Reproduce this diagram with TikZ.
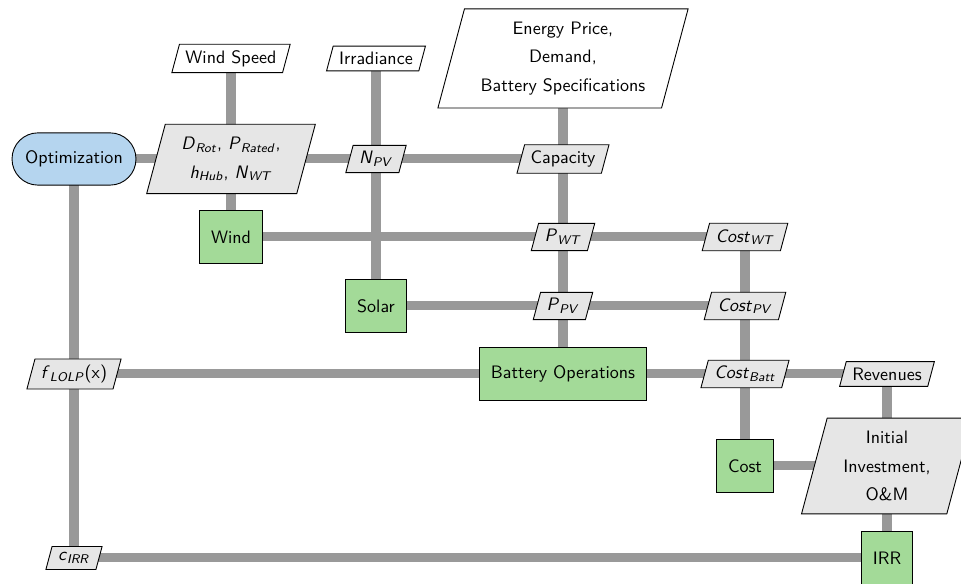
\documentclass[tikz,border=0pt]{standalone}
\usepackage{tikz}
\usetikzlibrary{shapes.geometric}
\usetikzlibrary{positioning}

\definecolor{optblue}{RGB}{181,213,239}
\definecolor{funcgreen}{RGB}{163,218,152}
\definecolor{datagray}{RGB}{230,230,230}
\definecolor{linegray}{RGB}{153,153,153}

\pgfdeclarelayer{background}
\pgfsetlayers{background,main}

\tikzstyle{optBox} = [draw=black, line width=0.5pt, fill=optblue,
   rectangle, rounded corners=14.4pt, minimum height=29pt, inner xsep=7.3pt]
\tikzstyle{funcBox} = [draw=black, line width=0.5pt, fill=funcgreen,
   rectangle, minimum height=29pt, inner xsep=6.5pt]
\tikzstyle{dataIn} = [draw=black, line width=0.5pt, fill=white,
   trapezium, trapezium left angle=75, trapezium right angle=105]
\tikzstyle{dataVar} = [dataIn, fill=datagray]
\tikzstyle{bigData} = [align=center, inner xsep=9pt, inner ysep=7pt]
\tikzstyle{dataLine} = [line width=5pt, draw=linegray]

\newcommand{\vsub}[2]{\textit{#1}\textsubscript{\textit{#2}}}

\begin{document}
\begin{tikzpicture}[x=0.555pt, y=-0.555pt, font=\sffamily]
    \useasboundingbox (0,0) rectangle (961,584);
    % diagonal
    \node [optBox] (opt) at (74,159) {Optimization};
    \node [funcBox] (wind) at (231,237) {Wind};
    \node [funcBox] (solar) at (376,306) {Solar};
    \node [funcBox] (batt) at (563,374) {Battery Operations};
    \node [funcBox] (cost) at (745,466) {Cost};
    \node [funcBox] (irrbox) at (887,558) {IRR};
    % inputs
    \node [dataIn] (wspd) at (231,58.5) {Wind Speed};
    \node [dataIn] (irrad) at (376,58.5) {Irradiance};
    \node [dataIn, bigData] (edata) at (563,58.5)
       {Energy Price,\\[4pt] Demand,\\[4pt] Battery Specifications};
    % variables
    \node [dataVar, bigData] (drot) at (231,159)
       {\vsub{D}{Rot}, \vsub{P}{Rated},\\[4pt] \vsub{h}{Hub}, \vsub{N}{WT}};
    \node [dataVar] (npv) at (376,159) {\vsub{N}{PV}};
    \node [dataVar] (cap) at (563,159) {Capacity};
    \node [dataVar] (pwt) at (563,237) {\vsub{P}{WT}};
    \node [dataVar] (cwt) at (745,237) {\vsub{Cost}{WT}};
    \node [dataVar] (ppv) at (563,306) {\vsub{P}{PV}};
    \node [dataVar] (cpv) at (745,306) {\vsub{Cost}{PV}};
    \node [dataVar] (flolp) at (74,374) {\vsub{f}{LOLP}(x)};
    \node [dataVar] (cbatt) at (745,374) {\vsub{Cost}{Batt}};
    \node [dataVar] (rev) at (887,374) {Revenues};
    \node [dataVar, bigData] (inv) at (887,466)
       {Initial\\[4pt] Investment,\\[4pt] O\&M};
    \node [dataVar] (circ) at (74,558) {\vsub{c}{IRR}};
    % connections
    \begin{pgfonlayer}{background}
    \draw [dataLine] (opt.center) -- (drot.center) -- (npv.center) -- (cap.center);
    \draw [dataLine] (opt.center) -- (flolp.center) -- (circ.center);
    \draw [dataLine] (wspd.center) -- (drot.center) -- (wind.center);
    \draw [dataLine] (irrad.center) -- (npv.center) -- (solar.center);
    \draw [dataLine] (edata.center) -- (cap.center) -- (pwt.center) -- (ppv.center) -- (batt.center);
    \draw [dataLine] (wind.center) -- (pwt.center) -- (cwt.center);
    \draw [dataLine] (solar.center) -- (ppv.center) -- (cpv.center);
    \draw [dataLine] (cwt.center) -- (cpv.center) -- (cbatt.center) -- (cost.center);
    \draw [dataLine] (flolp.center) -- (batt.center) -- (cbatt.center) -- (rev.center);
    \draw [dataLine] (rev.center) -- (inv.center) -- (irrbox.center);
    \draw [dataLine] (cost.center) -- (inv.center);
    \draw [dataLine] (circ.center) -- (irrbox.center);
    \end{pgfonlayer}
\end{tikzpicture}
\end{document}
